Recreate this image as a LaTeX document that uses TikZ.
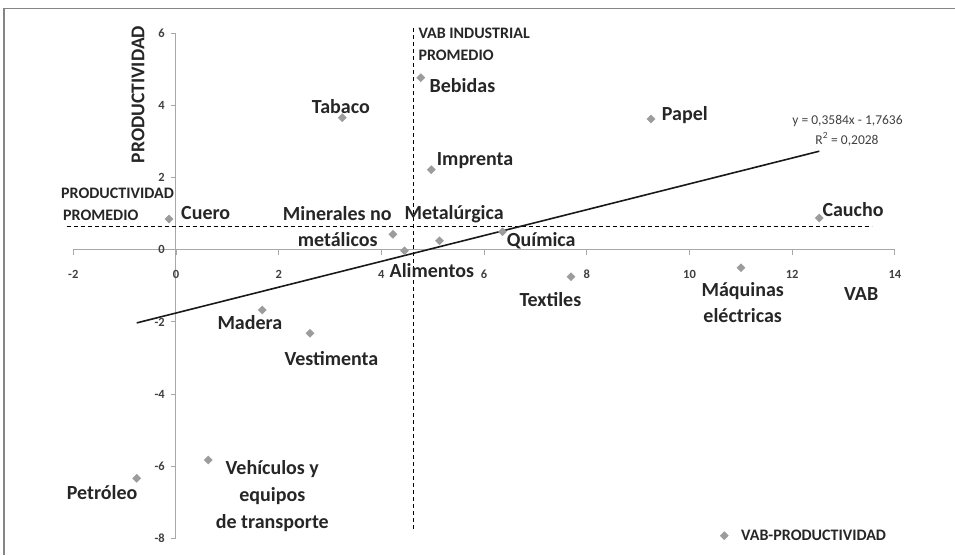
\documentclass[tikz,border=0pt]{standalone}
\usepackage{fontspec}
\setmainfont{Carlito}
\usetikzlibrary{shapes.geometric}
\definecolor{mk}{HTML}{9C9C9C}
\definecolor{ax}{HTML}{A8A8A8}
\definecolor{fr}{HTML}{858585}
\definecolor{tx}{HTML}{262626}
\definecolor{tk}{HTML}{404040}
\tikzset{
  pt/.style={diamond,aspect=1,fill=mk,draw=none,minimum width=9pt,minimum height=9pt,inner sep=0pt},
  lab/.style={inner sep=0pt,anchor=base west,text=tx,font=\fontsize{20}{24}\selectfont\bfseries},
  labc/.style={lab,anchor=base},
  small/.style={inner sep=0pt,anchor=base west,text=tx,font=\fontsize{16}{19}\selectfont\bfseries},
  xtick/.style={inner sep=0pt,anchor=base,text=tk,font=\fontsize{12.5}{15}\selectfont\bfseries},
  ytick/.style={inner sep=0pt,anchor=east,text=tk,font=\fontsize{12.5}{15}\selectfont\bfseries},
  eq/.style={inner sep=0pt,anchor=base,text=tk,font=\fontsize{13.5}{16}\selectfont},
  axisline/.style={draw=ax,line width=1pt},
  avgline/.style={draw=black,line width=1.1pt,dash pattern=on 4pt off 3pt},
  trend/.style={draw=black!90,line width=1.6pt}
}
\begin{document}
\begin{tikzpicture}[x=1pt,y=-1pt]
\useasboundingbox (0,0) rectangle (955,555);
% frame
\coordinate (f1) at (955,8.5);
\coordinate (f2) at (4,8.5);
\coordinate (f3) at (4,555);
\draw[fr,line width=1.6pt] (f1) -- (f2) -- (f3);

% axes
\coordinate (xa) at (73.3,249.5);
\coordinate (xb) at (895,249.5);
\coordinate (ya) at (175.7,33.3);
\coordinate (yb) at (175.7,538.3);
\draw[axisline] (xa) -- (xb);
\draw[axisline] (ya) -- (yb);
\foreach \i in {0,...,8}{
  \pgfmathsetmacro{\xx}{73.3+102.7*\i}
  \draw[axisline] (\xx,249.5) -- (\xx,254.5);
}
\foreach \j in {0,...,7}{
  \pgfmathsetmacro{\yy}{33.3+72.14*\j}
  \draw[axisline] (175.7,\yy) -- (171,\yy);
}
% x tick labels
\node[xtick] (xl1) at (73.3,278) {-2};
\node[xtick] (xl2) at (176,278) {0};
\node[xtick] (xl3) at (278.7,278) {2};
\node[xtick] (xl4) at (381.4,278) {4};
\node[xtick] (xl5) at (484.1,278) {6};
\node[xtick] (xl6) at (586.8,278) {8};
\node[xtick] (xl7) at (689.5,278) {10};
\node[xtick] (xl8) at (792.2,278) {12};
\node[xtick] (xl9) at (894.9,278) {14};
% y tick labels
\node[ytick] (yl1) at (165,33.3) {6};
\node[ytick] (yl2) at (165,105.4) {4};
\node[ytick] (yl3) at (165,177.6) {2};
\node[ytick] (yl4) at (165,249.7) {0};
\node[ytick] (yl5) at (165,321.9) {-2};
\node[ytick] (yl6) at (165,394) {-4};
\node[ytick] (yl7) at (165,466.1) {-6};
\node[ytick] (yl8) at (165,538.3) {-8};

% average lines
\coordinate (ha) at (66.7,226.7);
\coordinate (hb) at (871.7,226.7);
\coordinate (va) at (413.7,28);
\coordinate (vb) at (413.7,531.7);
\draw[avgline] (ha) -- (hb);
\draw[avgline] (va) -- (vb);

% trend line
\coordinate (ta) at (136.7,322.9);
\coordinate (tb) at (819.3,151.2);
\draw[trend] (ta) -- (tb);

% data points
\node[pt] (pcuero) at (169,219) {};
\node[pt] (ptabaco) at (342.3,117.7) {};
\node[pt] (pbebidas) at (420.8,77.7) {};
\node[pt] (pimprenta) at (431.3,169.7) {};
\node[pt] (pminer) at (392.9,234.3) {};
\node[pt] (palim) at (404.5,250.7) {};
\node[pt] (pmetal) at (439.5,240.7) {};
\node[pt] (pquim) at (502.5,231.8) {};
\node[pt] (ppapel) at (651,119) {};
\node[pt] (pcaucho) at (819.3,218) {};
\node[pt] (ptext) at (571,276.7) {};
\node[pt] (pmaq) at (741,267.7) {};
\node[pt] (pmadera) at (262.3,310) {};
\node[pt] (pvest) at (310,333.3) {};
\node[pt] (pveh) at (208.3,460) {};
\node[pt] (ppetro) at (136.7,478.3) {};

% data labels
\node[lab] (lcuero) at (181,219) {Cuero};
\node[lab] (ltabaco) at (311.7,113.3) {Tabaco};
\node[lab] (lbebidas) at (429.5,92) {Bebidas};
\node[lab] (limprenta) at (436.7,165.5) {Imprenta};
\node[lab] (lminer1) at (282.7,220.5) {Minerales no};
\node[lab] (lminer2) at (297.7,246.5) {metálicos};
\node[lab] (lmetal) at (404.5,219.5) {Metalúrgica};
\node[lab] (lalim) at (389.5,277) {Alimentos};
\node[lab] (lquim) at (506.7,246) {Química};
\node[lab] (lpapel) at (661.7,120) {Papel};
\node[lab] (lcaucho) at (822.3,216.7) {Caucho};
\node[lab] (ltext) at (519.3,306.7) {Textiles};
\node[labc] (lmaq1) at (742.7,296) {Máquinas};
\node[labc] (lmaq2) at (742.7,322.3) {eléctricas};
\node[lab] (lvab) at (844,300) {VAB};
\node[lab] (lmadera) at (217.3,329.3) {Madera};
\node[lab] (lvest) at (284.3,365) {Vestimenta};
\node[labc] (lveh1) at (272.3,474) {Vehículos y};
\node[labc] (lveh2) at (272.3,501) {equipos};
\node[labc] (lveh3) at (272.3,528.3) {de transporte};
\node[lab] (lpetro) at (66.7,499.3) {Petróleo};

% axis title
\node[inner sep=0pt,text=tx,font=\fontsize{19.5}{23}\selectfont\bfseries,rotate=90] (ytitle) at (138,94.5) {PRODUCTIVIDAD};

% average labels
\node[small] (prom1) at (61,198.3) {PRODUCTIVIDAD};
\node[small] (prom2) at (63,220) {PROMEDIO};
\node[small] (vabi1) at (418.3,38.3) {VAB INDUSTRIAL};
\node[small] (vabi2) at (418.3,60) {PROMEDIO};

% equation
\node[eq] (eq1) at (847.5,124) {y = 0,3584x - 1,7636};
\node[eq] (eq2) at (847,144) {R\textsuperscript{2} = 0,2028};

% legend
\node[pt] (legpt) at (724.3,535.7) {};
\node[small] (legtx) at (741,540.7) {VAB-PRODUCTIVIDAD};
\end{tikzpicture}
\end{document}
